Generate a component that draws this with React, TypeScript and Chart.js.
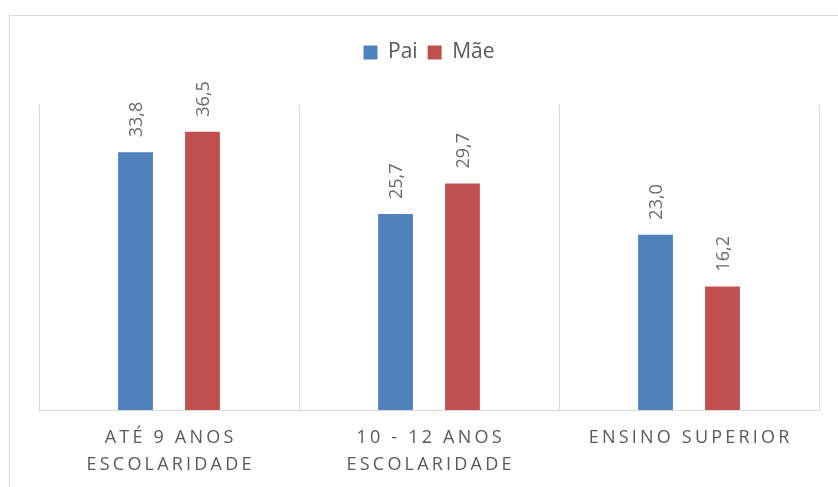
import React, { useEffect, useRef } from "react";
import { Chart, registerables } from "chart.js";

Chart.register(...registerables);

// Categories (each an array of label lines) and series values
const categories: string[][] = [
  ["ATÉ 9 ANOS", "ESCOLARIDADE"],
  ["10 - 12 ANOS", "ESCOLARIDADE"],
  ["ENSINO SUPERIOR"],
];
const seriesNames = ["Pai", "Mãe"];
const paiValues = [33.8, 25.7, 23.0];
const maeValues = [36.5, 29.7, 16.2];
const yMax = 40;

const BLUE = "#4F81BD";
const RED = "#C0504D";
const GRID = "#d9d9d9";
const TEXT = "#595959";
const FONT = "'Open Sans', 'Noto Sans', sans-serif";

const fmt = (v: number) => v.toFixed(1).replace(".", ",");

// Light frame around the chart
const framePlugin = {
  id: "frame",
  beforeDraw(chart: any) {
    const ctx = chart.ctx;
    ctx.save();
    ctx.strokeStyle = GRID;
    ctx.lineWidth = 1;
    ctx.strokeRect(9.5, 15.5, 1000, 1000);
    ctx.restore();
  },
};

// Extra space between the legend and the plot area
const legendGapPlugin = {
  id: "legendGap",
  beforeUpdate(chart: any) {
    const lg = chart.legend;
    if (lg && !lg.__gap) {
      const fit = lg.fit.bind(lg);
      lg.fit = () => {
        fit();
        lg.height += 32;
      };
      lg.__gap = true;
    }
  },
};

// Rotated value labels above each bar
const valueLabelPlugin = {
  id: "valueLabels",
  afterDatasetsDraw(chart: any) {
    const ctx = chart.ctx;
    ctx.save();
    ctx.font = `18px ${FONT}`;
    ctx.fillStyle = "#6a6a6a";
    ctx.textAlign = "left";
    ctx.textBaseline = "middle";
    chart.data.datasets.forEach((ds: any, di: number) => {
      const meta = chart.getDatasetMeta(di);
      meta.data.forEach((el: any, i: number) => {
        ctx.save();
        ctx.translate(el.x, el.y - 15);
        ctx.rotate(-Math.PI / 2);
        ctx.fillText(fmt(ds.data[i]), 0, 1);
        ctx.restore();
      });
    });
    ctx.restore();
  },
};

// Letter-spaced category labels under the axis
const categoryLabelPlugin = {
  id: "categoryLabels",
  afterDraw(chart: any) {
    const ctx = chart.ctx;
    const xs = chart.scales.x;
    const spacing = 3.2;
    ctx.save();
    ctx.font = `18px ${FONT}`;
    ctx.fillStyle = TEXT;
    ctx.textAlign = "left";
    ctx.textBaseline = "middle";
    (ctx as any).letterSpacing = `${spacing}px`;
    categories.forEach((lines, i) => {
      const cx = xs.getPixelForTick(i);
      lines.forEach((line, li) => {
        const w = ctx.measureText(line).width - spacing;
        ctx.fillText(line, cx - w / 2, xs.bottom + 28 + li * 27);
      });
    });
    ctx.restore();
  },
};

export default function App() {
  const ref = useRef<HTMLCanvasElement>(null);

  useEffect(() => {
    if (!ref.current) return;
    const chart = new Chart(ref.current, {
      type: "bar",
      data: {
        labels: categories,
        datasets: [
          {
            label: seriesNames[0],
            data: paiValues,
            backgroundColor: BLUE,
            categoryPercentage: 0.515,
            barPercentage: 0.52,
          },
          {
            label: seriesNames[1],
            data: maeValues,
            backgroundColor: RED,
            categoryPercentage: 0.515,
            barPercentage: 0.52,
          },
        ],
      },
      options: {
        responsive: false,
        animation: false,
        layout: { padding: { top: 32, left: 39, right: 19, bottom: 77 } },
        plugins: {
          legend: {
            position: "top",
            labels: {
              font: { family: FONT, size: 21 },
              color: TEXT,
              boxWidth: 14,
              boxHeight: 14,
              padding: 10,
            },
          },
          tooltip: { enabled: false },
        },
        scales: {
          x: {
            grid: { color: GRID, offset: true, drawTicks: false, lineWidth: 1 },
            border: { color: GRID },
            ticks: { display: false },
          },
          y: {
            display: false,
            min: 0,
            max: yMax,
          },
        },
      },
      plugins: [framePlugin, legendGapPlugin, valueLabelPlugin, categoryLabelPlugin],
    });
    return () => chart.destroy();
  }, []);

  return (
    <div style={{ position: "fixed", left: 0, top: 0, width: 838, height: 487, background: "#fff" }}>
      <canvas ref={ref} width={838} height={487} />
    </div>
  );
}
